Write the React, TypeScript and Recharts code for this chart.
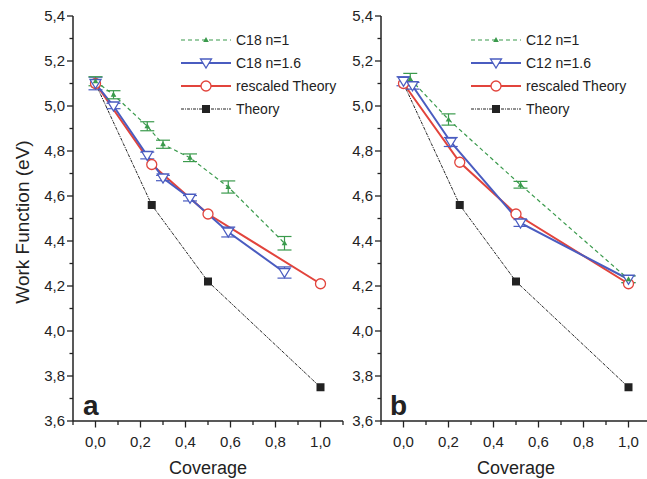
import React from 'react'
import { LineChart, Line, XAxis, YAxis, ErrorBar } from 'recharts'

// panel a: C18
const c18n1X = [0, 0.08, 0.23, 0.3, 0.42, 0.59, 0.84]
const c18n1Y = [5.11, 5.05, 4.91, 4.83, 4.77, 4.64, 4.39]
const c18n1Err = [0.02, 0.018, 0.02, 0.018, 0.017, 0.027, 0.03]

const c18n16X = [0, 0.08, 0.23, 0.3, 0.42, 0.59, 0.84]
const c18n16Y = [5.1, 5.0, 4.78, 4.68, 4.59, 4.44, 4.26]
const c18n16Err = [0.028, 0.012, 0.015, 0.012, 0.012, 0.022, 0.025]

// panel b: C12
const c12n1X = [0.03, 0.2, 0.52, 1.0]
const c12n1Y = [5.12, 4.94, 4.65, 4.23]
const c12n1Err = [0.025, 0.025, 0.015, 0.015]

const c12n16X = [0, 0.04, 0.21, 0.52, 1.0]
const c12n16Y = [5.11, 5.09, 4.84, 4.48, 4.23]
const c12n16Err = [0.02, 0.015, 0.02, 0.015, 0.015]

// shared theory curves
const rescaledX = [0, 0.25, 0.5, 1.0]
const rescaledYa = [5.1, 4.74, 4.52, 4.21]
const rescaledYb = [5.1, 4.75, 4.52, 4.21]
const theoryX = [0, 0.25, 0.5, 1.0]
const theoryY = [5.1, 4.56, 4.22, 3.75]

const xTicks = [-0.1, 0, 0.1, 0.2, 0.3, 0.4, 0.5, 0.6, 0.7, 0.8, 0.9, 1.0, 1.1]
const yTicks = [3.6, 3.7, 3.8, 3.9, 4.0, 4.1, 4.2, 4.3, 4.4, 4.5, 4.6, 4.7, 4.8, 4.9, 5.0, 5.1, 5.2, 5.3, 5.4]

const GREEN = '#3a9a4c'
const BLUE = '#4a5cc0'
const RED = '#e2443c'
const BLACK = '#222'
const FONT = '"Liberation Sans", Arial, Helvetica, sans-serif'

const toRows = (xs: number[], ys: number[], es?: number[]) =>
  xs.map((x, i) => ({ x, y: ys[i], e: es ? es[i] : 0 }))

const fmt = (v: number) => v.toFixed(1).replace('.', ',')
const isMajor = (v: number) => Math.round(v * 10) % 2 === 0

const YTick = (props: any) => {
  const { x, y, payload } = props
  const ax = x + 8
  const major = isMajor(payload.value)
  return (
    <g>
      <line x1={ax - (major ? 6 : 3.5)} x2={ax} y1={y} y2={y} stroke={BLACK} strokeWidth={1.3} />
      {major && (
        <text x={ax - 8} y={y} dy="0.36em" textAnchor="end" fontSize={15} fill={BLACK} fontFamily={FONT}>
          {fmt(payload.value)}
        </text>
      )}
    </g>
  )
}

const XTick = (props: any) => {
  const { x, y, payload } = props
  const ay = y - 8
  const major = isMajor(payload.value)
  return (
    <g>
      <line x1={x} x2={x} y1={ay} y2={ay + (major ? 6.5 : 4)} stroke={BLACK} strokeWidth={1.3} />
      {major && (
        <text x={x} y={ay + 26} textAnchor="middle" fontSize={15} fill={BLACK} fontFamily={FONT}>
          {fmt(payload.value)}
        </text>
      )}
    </g>
  )
}

const TriUp = ({ cx, cy, color }: any) => (
  <polygon points={`${cx},${cy - 3} ${cx - 2.8},${cy + 2} ${cx + 2.8},${cy + 2}`} fill={color} />
)
const TriDown = ({ cx, cy, color }: any) => (
  <polygon
    points={`${cx - 5.5},${cy - 4} ${cx + 5.5},${cy - 4} ${cx},${cy + 5}`}
    fill="#fff"
    stroke={color}
    strokeWidth={1.3}
  />
)
const Circ = ({ cx, cy, color }: any) => (
  <circle cx={cx} cy={cy} r={5} fill="#fff" stroke={color} strokeWidth={1.3} />
)
const Sq = ({ cx, cy, color }: any) => (
  <rect x={cx - 4} y={cy - 4} width={8} height={8} fill={color} />
)

const dotOf = (M: any, color: string) => (p: any) =>
  <M key={`d-${p.index}`} cx={p.cx} cy={p.cy} color={color} />

type PanelProps = {
  n1: { x: number; y: number; e: number }[]
  n16: { x: number; y: number; e: number }[]
  rescaled: { x: number; y: number; e: number }[]
  theory: { x: number; y: number; e: number }[]
}

function Panel({ n1, n16, rescaled, theory }: PanelProps) {
  return (
    <LineChart width={345} height={479} margin={{ top: 16, right: 2, bottom: 0, left: 0 }}>
      <XAxis
        type="number"
        dataKey="x"
        domain={[-0.1, 1.1]}
        ticks={xTicks}
        interval={0}
        height={58}
        tickSize={6}
        tickMargin={2}
        tickLine={false}
        tick={<XTick />}
        axisLine={{ stroke: BLACK, strokeWidth: 1.5 }}
        allowDataOverflow
      />
      <YAxis
        type="number"
        dataKey="y"
        domain={[3.6, 5.4]}
        ticks={yTicks}
        interval={0}
        width={73}
        tickSize={6}
        tickMargin={2}
        tickLine={false}
        tick={<YTick />}
        axisLine={{ stroke: BLACK, strokeWidth: 1.5 }}
        allowDataOverflow
      />
      <Line
        data={theory}
        dataKey="y"
        stroke={BLACK}
        strokeWidth={1}
        strokeDasharray="3 1 1 1"
        dot={dotOf(Sq, BLACK)}
        isAnimationActive={false}
      />
      <Line
        data={rescaled}
        dataKey="y"
        stroke={RED}
        strokeWidth={2}
        dot={dotOf(Circ, RED)}
        isAnimationActive={false}
      />
      <Line
        data={n16}
        dataKey="y"
        stroke={BLUE}
        strokeWidth={2}
        dot={dotOf(TriDown, BLUE)}
        isAnimationActive={false}
      >
        <ErrorBar dataKey="e" direction="y" width={7} stroke={BLUE} strokeWidth={1.2} isAnimationActive={false} />
      </Line>
      <Line
        data={n1}
        dataKey="y"
        stroke={GREEN}
        strokeWidth={1.2}
        strokeDasharray="4 3"
        dot={dotOf(TriUp, GREEN)}
        isAnimationActive={false}
      >
        <ErrorBar dataKey="e" direction="y" width={7} stroke={GREEN} strokeWidth={1.2} isAnimationActive={false} />
      </Line>
    </LineChart>
  )
}

function LegendBox({ x, y, names }: { x: number; y: number; names: string[] }) {
  const rows = [
    { color: GREEN, dash: '4 3', w: 1.2, M: TriUp },
    { color: BLUE, dash: undefined, w: 2, M: TriDown },
    { color: RED, dash: undefined, w: 2, M: Circ },
    { color: BLACK, dash: '3 1 1 1', w: 1, M: Sq },
  ]
  return (
    <g>
      {rows.map((r, i) => {
        const cy = y + i * 23
        const M = r.M
        return (
          <g key={i}>
            <line x1={x} x2={x + 50} y1={cy} y2={cy} stroke={r.color} strokeWidth={r.w} strokeDasharray={r.dash} />
            <M cx={x + 25} cy={cy} color={r.color} />
            <text x={x + 55} y={cy} dy="0.36em" fontSize={14} fill={BLACK} fontFamily={FONT}>
              {names[i]}
            </text>
          </g>
        )
      })}
    </g>
  )
}

export default function App() {
  const a = {
    n1: toRows(c18n1X, c18n1Y, c18n1Err),
    n16: toRows(c18n16X, c18n16Y, c18n16Err),
    rescaled: toRows(rescaledX, rescaledYa),
    theory: toRows(theoryX, theoryY),
  }
  const b = {
    n1: toRows(c12n1X, c12n1Y, c12n1Err),
    n16: toRows(c12n16X, c12n16Y, c12n16Err),
    rescaled: toRows(rescaledX, rescaledYb),
    theory: toRows(theoryX, theoryY),
  }

  return (
    <div
      style={{
        position: 'fixed',
        left: 0,
        top: 0,
        width: 647,
        height: 479,
        overflow: 'hidden',
        background: '#fff',
        fontFamily: FONT,
      }}
    >
      <div style={{ position: 'absolute', left: 0, top: 0 }}>
        <Panel {...a} />
      </div>
      <div style={{ position: 'absolute', left: 308, top: 0 }}>
        <Panel {...b} />
      </div>
      <svg width={647} height={479} style={{ position: 'absolute', left: 0, top: 0, pointerEvents: 'none' }}>
        <text
          transform="translate(29,222) rotate(-90)"
          textAnchor="middle"
          fontSize={19}
          fill={BLACK}
          fontFamily={FONT}
        >
          Work Function (eV)
        </text>
        <text x={208} y={474} textAnchor="middle" fontSize={18} fill={BLACK} fontFamily={FONT}>
          Coverage
        </text>
        <text x={516} y={474} textAnchor="middle" fontSize={18} fill={BLACK} fontFamily={FONT}>
          Coverage
        </text>
        <text x={83} y={415} fontSize={28} fontWeight="bold" fill={BLACK} fontFamily={FONT}>
          a
        </text>
        <text x={390} y={415} fontSize={28} fontWeight="bold" fill={BLACK} fontFamily={FONT}>
          b
        </text>
        <LegendBox x={181} y={40} names={['C18 n=1', 'C18 n=1.6', 'rescaled Theory', 'Theory']} />
        <LegendBox x={471} y={40} names={['C12 n=1', 'C12 n=1.6', 'rescaled Theory', 'Theory']} />
      </svg>
    </div>
  )
}
